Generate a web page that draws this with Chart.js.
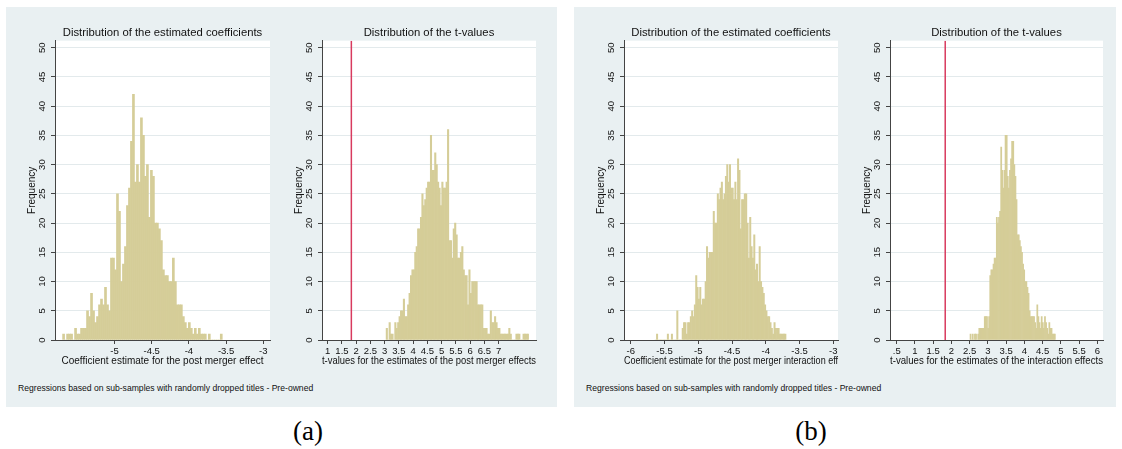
<!DOCTYPE html>
<html><head><meta charset="utf-8">
<script src="https://cdn.jsdelivr.net/npm/chart.js@4"></script>
<style>
html,body{margin:0;padding:0;background:#fff;}
body{width:1122px;height:449px;position:relative;overflow:hidden;font-family:"Liberation Sans",Arial,sans-serif;}
.panel{position:absolute;top:7px;height:400px;background:#e9f0f2;}
#pa{left:6px;width:551px;}
#pb{left:574px;width:542px;}
canvas{position:absolute;}
.note{position:absolute;top:383px;font-size:8.6px;color:#111;white-space:nowrap;}
.cap{position:absolute;top:418px;width:60px;text-align:center;line-height:1;font-family:"Liberation Serif","Times New Roman",serif;font-size:27px;color:#000;}
</style></head>
<body>
<div class="panel" id="pa"></div>
<div class="panel" id="pb"></div>
<canvas id="c1" width="265" height="360" style="left:15px;top:15px;width:265px;height:360px"></canvas>
<canvas id="c2" width="264" height="360" style="left:282px;top:15px;width:264px;height:360px"></canvas>
<canvas id="c3" width="264" height="360" style="left:584px;top:15px;width:264px;height:360px"></canvas>
<canvas id="c4" width="263" height="360" style="left:850px;top:15px;width:263px;height:360px"></canvas>
<div class="note" style="left:18px">Regressions based on sub-samples with randomly dropped titles - Pre-owned</div>
<div class="note" style="left:586px">Regressions based on sub-samples with randomly dropped titles - Pre-owned</div>
<div class="cap" style="left:278px">(a)</div>
<div class="cap" style="left:781px">(b)</div>
<script>
// ---------- DATA ----------
const titleCoef = 'Distribution of the estimated coefficients';
const titleT = 'Distribution of the t-values';
const yTitle = 'Frequency';
const yTickValues = [0, 5, 10, 15, 20, 25, 30, 35, 40, 45, 50];

// (a) left: coefficient estimates, post merger effect
const coefA_start = -5.698;
const coefA_width = 0.02683;
const coefA_counts = [1,0,1,1,1,0,2,1,1,2, 2,2,5,4,8,5,3,4,6,7, 6,9,6,5,14,14,12,25,22,10,
  13,16,23,26,34,42,27,30,27,38, 35,28,30,21,29,28,20,20,19,17, 12,11,11,10,10,14,10,6,6,6,
  4,3,2,3,2,1,2,1,2,1, 1,1,0,1,0,0,0,0,0,1];
const coefA_tickValues = [-5, -4.5, -4, -3.5, -3];
const coefA_tickLabels = ['-5', '-4.5', '-4', '-3.5', '-3'];
const coefA_xTitle = 'Coefficient estimate for the post merger effect';

// (a) right: t-values, post merger effects
const tA_start = 3.05;
const tA_width = 0.05;
const tA_counts = [2,0,3,1,1,0,3,2,3,4, 5,5,7,4,4,6,8,11,12,12, 15,16,19,19,21,25,23,24,26,27,
  27,35,29,29,32,30,27,26,23,27, 26,26,27,36,17,17,14,19,20,18, 14,14,15,16,12,11,11,6,12,8,
  10,10,10,10,6,6,6,6,2,2, 2,1,1,5,3,3,4,3,2,2, 1,1,1,1,1,1,2,1,0,0, 0,1,1,1,0,0,1,1,1,1];
const tA_tickValues = [1, 1.5, 2, 2.5, 3, 3.5, 4, 4.5, 5, 5.5, 6, 6.5, 7];
const tA_tickLabels = ['1','1.5','2','2.5','3','3.5','4','4.5','5','5.5','6','6.5','7'];
const tA_xTitle = 't-values for the estimates of the post merger effects';

// (b) left: coefficient estimates, post merger interaction effect
const coefB_start = -5.64;
const coefB_width = 0.02;
const coefB_counts = [0,1,0,0,0,0,0,0,0,1, 0,0,1,0,0,0,5,0,0,0, 2,3,3,1,3,3,4,5,4,6,
  11,9,7,9,6,7,7,10,16,14, 15,15,15,22,20,20,25,24,26,27, 24,25,28,30,27,30,26,26,24,27,
  24,31,29,19,24,24,25,25,20,14, 21,16,14,18,12,13,10,16,10,9, 8,6,5,4,4,3,2,1,3,2, 2,2,1,1,1,1,1];
const coefB_tickValues = [-6, -5.5, -5, -4.5, -4, -3.5, -3];
const coefB_tickLabels = ['-6','-5.5','-5','-4.5','-4','-3.5','-3'];
const coefB_xTitle = 'Coefficient estimate for the post merger interaction eff';

// (b) right: t-values, interaction effects
const tB_start = 2.51;
const tB_width = 0.03;
const tB_counts = [1,0,1,0,1,1,0,1,2,2, 2,2,2,4,4,4,2,4,11,12, 12,13,14,14,21,20,21,22,33,29,
  26,29,35,35,28,26,29,31,34,34, 30,28,24,18,18,17,16,15,13,12, 10,10,9,8,5,4,4,4,4,3,
  2,6,4,3,2,4,3,2,4,3, 2,1,3,2,2,1,1,1];
const tB_tickValues = [0.5, 1, 1.5, 2, 2.5, 3, 3.5, 4, 4.5, 5, 5.5, 6];
const tB_tickLabels = ['.5','1','1.5','2','2.5','3','3.5','4','4.5','5','5.5','6'];
const tB_xTitle = 't-values for the estimates of the interaction effects';

const criticalT = 1.83;

// ---------- STYLE ----------
const Y_MAX = 51.2;
const BAR_FILL = '#d5cd98';
const BAR_EDGE = '#cbc288';
const REF_COLOR = '#d83a5e';
const GRID = '#e3eaec';
const AXIS = '#444';
const TXT = '#111';

Chart.defaults.font.family = '"Liberation Sans", Arial, sans-serif';
Chart.defaults.color = TXT;

const whiteArea = {
  id: 'whiteArea',
  beforeDraw(chart) {
    const {ctx, chartArea: a} = chart;
    ctx.save();
    ctx.fillStyle = '#ffffff';
    ctx.fillRect(a.left, a.top, a.right - a.left, a.bottom - a.top);
    ctx.restore();
  }
};

function histConfig(counts, start, width, xMin, xMax, tickVals, tickLabels, title, xTitle, refLine) {
  const bars = counts.map((c, i) => ({x: start + width * (i + 0.5), y: c}));
  const datasets = [{
    type: 'bar', data: bars, backgroundColor: BAR_FILL, borderColor: BAR_EDGE, borderWidth: 0,
    barPercentage: 1, categoryPercentage: 1, grouped: false, order: 2
  }];
  if (refLine !== null) {
    datasets.push({
      type: 'line', data: [{x: refLine, y: 0}, {x: refLine, y: Y_MAX}],
      borderColor: REF_COLOR, borderWidth: 1.5, pointRadius: 0, order: 1
    });
  }
  return {
    type: 'bar',
    data: {datasets},
    options: {
      responsive: false, animation: false, events: [],
      layout: {padding: {left: 0, right: 10, top: 0, bottom: 0}},
      plugins: {
        legend: {display: false}, tooltip: {enabled: false},
        title: {display: true, text: title, fullSize: false, color: TXT,
                font: {size: 11.3, weight: 'normal'}, padding: {top: 11.2, bottom: 0.9}}
      },
      scales: {
        x: {
          type: 'linear', min: xMin, max: xMax, offset: false,
          grid: {offset: false, drawOnChartArea: false, drawTicks: true, tickLength: 4, tickColor: AXIS},
          border: {display: true, color: AXIS, width: 1},
          afterBuildTicks: s => { s.ticks = tickVals.map(v => ({value: v})); },
          ticks: {autoSkip: false, maxRotation: 0, minRotation: 0, padding: 2, font: {size: 9.5}, color: TXT,
                  callback: (v, i) => tickLabels[i]},
          title: {display: true, text: xTitle, font: {size: 10}, color: TXT, padding: {top: 0, bottom: 7.3}},
          afterFit: s => { s.height = 35; }
        },
        y: {
          type: 'linear', min: 0, max: Y_MAX,
          afterBuildTicks: s => { s.ticks = yTickValues.map(v => ({value: v})); },
          ticks: {minRotation: 90, maxRotation: 90, crossAlign: 'center', padding: 3.7, font: {size: 9.5}, color: TXT,
                  callback: v => String(v)},
          grid: {color: GRID, lineWidth: 1, drawTicks: true, tickLength: 4, tickColor: AXIS},
          border: {display: true, color: AXIS, width: 1},
          title: {display: true, text: yTitle, font: {size: 10}, color: TXT, padding: {top: 11.3, bottom: 0}},
          afterFit: s => { s.width = 40; }
        }
      }
    },
    plugins: [whiteArea]
  };
}

new Chart(document.getElementById('c1'), histConfig(coefA_counts, coefA_start, coefA_width, -5.80, -2.91,
  coefA_tickValues, coefA_tickLabels, titleCoef, coefA_xTitle, null));
new Chart(document.getElementById('c2'), histConfig(tA_counts, tA_start, tA_width, 0.80, 8.31,
  tA_tickValues, tA_tickLabels, titleT, tA_xTitle, criticalT));
new Chart(document.getElementById('c3'), histConfig(coefB_counts, coefB_start, coefB_width, -6.10, -2.93,
  coefB_tickValues, coefB_tickLabels, titleCoef, coefB_xTitle, null));
new Chart(document.getElementById('c4'), histConfig(tB_counts, tB_start, tB_width, 0.316, 6.156,
  tB_tickValues, tB_tickLabels, titleT, tB_xTitle, criticalT));
</script>
</body></html>
